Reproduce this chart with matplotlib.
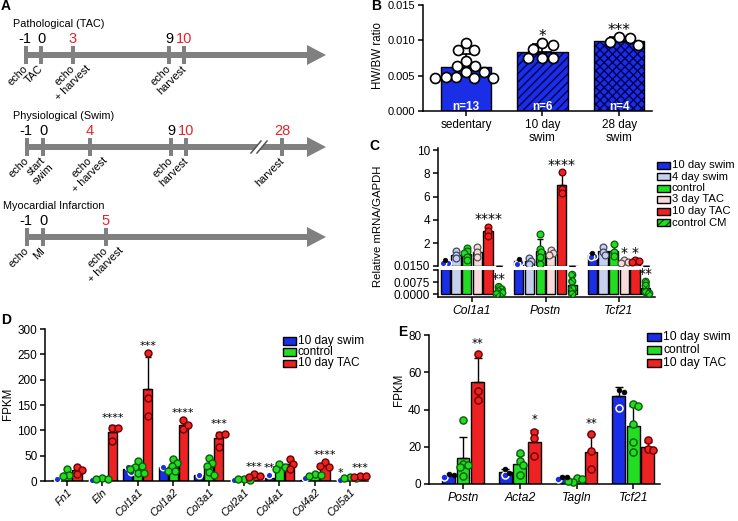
import matplotlib
matplotlib.use('Agg')
import matplotlib.pyplot as plt
from matplotlib.patches import Rectangle, Polygon
import numpy as np

plt.rcParams['font.family'] = ['Liberation Sans', 'DejaVu Sans']
plt.rcParams['axes.linewidth'] = 1.1
plt.rcParams['hatch.linewidth'] = 1.0

# ======================= DATA =======================
# ---- Panel A (timelines)
tl_titles = ["Pathological (TAC)", "Physiological (Swim)", "Myocardial Infarction"]
tl_days = [["-1", "0", "3", "9", "10"],
           ["-1", "0", "4", "9", "10", "28"],
           ["-1", "0", "5"]]
tl_red = [["3", "10"], ["4", "10", "28"], ["5"]]
tl_events = [[["echo"], ["TAC"], ["echo", "+ harvest"], ["echo"], ["harvest"]],
             [["echo"], ["start", "swim"], ["echo", "+ harvest"], ["echo"], ["harvest"], ["harvest"]],
             [["echo"], ["MI"], ["echo", "+ harvest"]]]

# ---- Panel B
b_groups = ["sedentary", "10 day\nswim", "28 day\nswim"]
b_means = [0.0062, 0.0083, 0.0099]
b_err = [0.0018, 0.0012, 0.0006]
b_points = [[0.0096, 0.0086, 0.0086, 0.0071, 0.0063, 0.0063, 0.0055, 0.0055,
             0.0048, 0.0048, 0.0046, 0.0047, 0.0047],
            [0.0096, 0.0093, 0.0088, 0.0075, 0.0075, 0.0075],
            [0.0105, 0.0103, 0.0098, 0.0093]]
b_n = ["n=13", "n=6", "n=4"]
b_stars = ["", "*", "***"]

# ---- Panel C
c_genes = ["Col1a1", "Postn", "Tcf21"]
c_series = ["10 day swim", "4 day swim", "control", "3 day TAC", "10 day TAC", "control CM"]
c_swim10 = [0.35, 0.41, 0.93]
c_swim10_err = [0.12, 0.15, 0.2]
c_swim10_pts = [[0.5, 0.3, 0.25], [0.66, 0.37, 0.2], [1.15, 0.9, 0.75]]
c_swim4 = [1.0, 0.45, 1.27]
c_swim4_err = [0.3, 0.25, 0.35]
c_swim4_pts = [[1.3, 1.0, 0.7], [0.7, 0.45, 0.2], [1.66, 1.2, 0.95]]
c_control = [1.06, 1.3, 1.33]
c_control_err = [0.45, 1.05, 0.5]
c_control_pts = [[1.6, 1.3, 1.1, 0.8, 0.5], [2.8, 1.5, 1.2, 0.8, 0.2], [1.9, 1.2, 0.9]]
c_tac3 = [1.23, 1.16, 0.4]
c_tac3_err = [0.43, 0.2, 0.1]
c_tac3_pts = [[1.66, 1.23, 0.8], [1.37, 1.1, 1.0], [0.5, 0.4, 0.3]]
c_tac10 = [3.0, 7.03, 0.41]
c_tac10_err = [0.4, 0.95, 0.09]
c_tac10_pts = [[3.4, 3.0, 2.6], [8.1, 6.7, 6.3], [0.5, 0.42, 0.32]]
c_cm = [0.0020, 0.0059, 0.0036]
c_cm_err = [0.0018, 0.0053, 0.0033]
c_cm_pts = [[0.0045, 0.003, 0.0018, 0.0008, 0.0], [0.012, 0.008, 0.0035, 0.0],
            [0.0077, 0.0052, 0.0013, 0.0004]]
c_stars = [(0, 4, "****"), (0, 5, "**"), (1, 4, "****"), (2, 3, "*"), (2, 4, "*"), (2, 5, "**")]

# ---- Panel D
d_genes = ["Fn1", "Eln", "Col1a1", "Col1a2", "Col3a1", "Col2a1", "Col4a1", "Col4a2", "Col5a1"]
d_swim = [2, 1, 23, 28, 11, 0.5, 6, 1.5, 0.5]
d_swim_err = [0, 0, 6, 3, 3, 0, 3, 0, 0]
d_swim_pts = [[4], [2], [28, 18], [28], [11], [2], [11], [5], [2]]
d_ctrl = [15, 4, 26, 29, 28, 3, 28, 12, 6]
d_ctrl_err = [7, 2, 9, 10, 13, 1, 5, 2, 1]
d_ctrl_pts = [[23, 12, 10], [6, 4, 3], [39, 30, 28, 23, 16, 16], [44, 35, 29, 19, 19],
              [45, 35, 30, 17, 12], [3, 2, 4], [33, 28, 23], [14, 11, 9], [7, 5, 6]]
d_tac = [21, 96, 181, 111, 84, 10, 33, 32, 9]
d_tac_err = [7, 14, 64, 9, 13, 3, 10, 5, 1]
d_tac_pts = [[28, 21, 14], [104, 104, 79], [252, 164, 128], [120, 103, 110], [91, 92, 68],
             [13, 9, 8], [43, 33, 23], [37, 28, 30], [10, 9, 8]]
d_stars = [(1, 2, "****"), (2, 2, "***"), (3, 2, "****"), (4, 2, "***"), (5, 2, "***"),
           (6, 0, "**"), (7, 2, "****"), (8, 0, "*"), (8, 2, "***")]

# ---- Panel E
e_genes = ["Postn", "Acta2", "Tagln", "Tcf21"]
e_swim = [4.6, 6.2, 3.5, 47]
e_swim_err = [0.6, 1.6, 0.9, 5.2]
e_swim_pts = [[5.2, 4.8, 3.9], [7.9, 6.0, 4.8], [4.0, 3.8, 2.6], [50.5, 49.5, 41]]
e_ctrl = [13.8, 11, 2, 31]
e_ctrl_err = [11.6, 4.5, 1.0, 11.0]
e_ctrl_pts = [[34.5, 11, 10, 9, 4.5], [16.5, 12.5, 10.2, 4.8], [3, 2.5, 1, 1.5],
              [43, 41.7, 32, 22.4, 17]]
e_tac = [54.9, 22.4, 17.3, 20]
e_tac_err = [12.5, 6.6, 9.3, 2.5]
e_tac_pts = [[69.6, 45, 50], [27.9, 24.5, 14.9], [26.6, 17.5, 7.8], [23.4, 19, 18]]
e_stars = [(0, 2, "**"), (1, 2, "*"), (2, 2, "**")]
legend3 = ["10 day swim", "control", "10 day TAC"]

# ======================= STYLE =======================
BLUE = '#1a2ee6'; NAVY = '#000050'
LBLUE = '#c5d0ee'; GREEN = '#22dd22'; DGREEN = '#0b5d0b'
PINK = '#f9d9d9'; RED = '#ee2222'; DRED = '#6a0000'
TLRED = '#e3242b'; GRAY = '#808080'

W, H = 738, 521
fig = plt.figure(figsize=(W / 100, H / 100), dpi=100)


def add_ax(x0, y0, x1, y1):
    return fig.add_axes([x0 / W, 1 - y1 / H, (x1 - x0) / W, (y1 - y0) / H])


ov = add_ax(0, 0, W, H)
ov.set_xlim(0, W); ov.set_ylim(H, 0); ov.axis('off'); ov.set_zorder(10)
renderer = fig.canvas.get_renderer()


def text_width(s, fs):
    t = ov.text(0, 0, s, fontsize=fs)
    w = t.get_window_extent(renderer).width
    t.remove()
    return w


def swarm_offsets(vals, diam, xs, ys):
    placed, out = [], []
    for v in vals:
        y = v * ys
        k, chosen = 0, None
        while chosen is None:
            cands = [0.0] if k == 0 else [k * 0.5, -k * 0.5]
            for c in cands:
                if all((c - px) ** 2 + (y - py) ** 2 >= diam ** 2 for px, py in placed):
                    chosen = c
                    break
            k += 1
        placed.append((chosen, y))
        out.append(chosen / xs)
    return np.array(out)


def draw_bars(ax, x, h, w, face, hatch=None, hcolor=None):
    if hatch:
        ax.bar(x, h, w, color=face, edgecolor=hcolor, linewidth=0, hatch=hatch, zorder=2)
        ax.bar(x, h, w, fill=False, edgecolor='k', linewidth=1, zorder=2.1)
    else:
        ax.bar(x, h, w, color=face, edgecolor='k', linewidth=1, zorder=2)


def up_err(ax, x, h, err, cs, lw=1.0):
    ax.errorbar(x, h, yerr=[np.zeros(len(err)), err], fmt='none', ecolor='k',
                elinewidth=lw, capsize=cs, capthick=lw, zorder=3)


def star(ax, x, y, text, fs, gap_px):
    off = (gap_px - 0.59 * fs * 100 / 72) * 0.72
    ax.annotate(text, (x, y), xytext=(0, off), textcoords='offset points', ha='center',
                va='baseline', fontsize=fs, family='DejaVu Sans', annotation_clip=False,
                zorder=6)


def prism(ax, fs=8.5):
    ax.spines['top'].set_visible(False)
    ax.spines['right'].set_visible(False)
    ax.tick_params(direction='out', length=3.5, width=1.1, labelsize=fs, pad=2)


def sz(d):
    return (d * 0.72) ** 2


# ======================= PANEL A =======================
tl_y = [55, 147, 237]
tl_title_x = [13, 13, 3]
tl_xpos = [[26, 41, 73, 169, 184], [27, 43, 90, 171, 186, 282], [27, 43, 106]]
tl_break = [None, 258, None]
EVFS = 7.8
for ti in range(3):
    ly = tl_y[ti]
    xs = tl_xpos[ti]
    ov.text(tl_title_x[ti], ly - 28, tl_titles[ti], fontsize=7.8, va='baseline')
    ov.plot([xs[0] - 2, 309], [ly, ly], color=GRAY, lw=4.3, solid_capstyle='butt')
    ov.add_patch(Polygon([[307, ly - 10], [326, ly], [307, ly + 10]], closed=True,
                         facecolor=GRAY, lw=0))
    if tl_break[ti] is not None:
        bx = tl_break[ti]
        ov.add_patch(Polygon([[bx - 6, ly + 6], [bx + 3, ly - 6], [bx + 8, ly - 6], [bx - 1, ly + 6]],
                             closed=True, facecolor='white', lw=0, zorder=3))
        ov.plot([bx - 7, bx + 3], [ly + 6, ly - 6], color='#555555', lw=1.1, zorder=4)
        ov.plot([bx - 1, bx + 9], [ly + 6, ly - 6], color='#555555', lw=1.1, zorder=4)
    for day, x, ev in zip(tl_days[ti], xs, tl_events[ti]):
        ov.add_patch(Rectangle((x - 2.2, ly - 9), 4.4, 18, facecolor=GRAY, lw=0))
        ov.text(x - (1.5 if day == "-1" else 0), ly - 12, day, ha='center', va='baseline',
                fontsize=10.5, color=TLRED if day in tl_red[ti] else 'k')
        p1 = (x + 0.5, ly + 12)
        ov.text(p1[0], p1[1], ev[0], rotation=45, rotation_mode='anchor', ha='right',
                va='center', fontsize=EVFS)
        if len(ev) > 1:
            w1 = text_width(ev[0], EVFS)
            c = (p1[0] - w1 / 2 / np.sqrt(2), p1[1] + w1 / 2 / np.sqrt(2))
            sp = 10.5
            p2 = (c[0] + sp / np.sqrt(2), c[1] + sp / np.sqrt(2))
            ov.text(p2[0], p2[1], ev[1], rotation=45, rotation_mode='anchor', ha='center',
                    va='center', fontsize=EVFS)

# ======================= PANEL B =======================
axb = add_ax(423, 5, 652, 111)
prism(axb, 8)
xb = np.arange(len(b_groups))
axb.set_xlim(-0.56, 2.43)
axb.set_ylim(0, 0.015)
b_hatch = [None, '////', 'xxxx']
for i in range(3):
    draw_bars(axb, xb[i], b_means[i], 0.66, BLUE, b_hatch[i], NAVY)
up_err(axb, xb, b_means, b_err, 7.5, 1.2)
for i in range(3):
    offs = swarm_offsets(b_points[i], 10.5, 76.5, 106 / 0.015)
    axb.scatter(xb[i] + offs, b_points[i], s=sz(10), facecolor='white', edgecolor='k',
                linewidths=1.2, zorder=4, clip_on=False)
    axb.text(xb[i], 0.0002, b_n[i], color='white', fontweight='bold', ha='center',
             va='baseline', fontsize=8.5, zorder=5)
    if b_stars[i]:
        star(axb, xb[i], max(b_means[i] + b_err[i], max(b_points[i])), b_stars[i], 11, 11)
axb.set_yticks([0, 0.005, 0.010, 0.015])
axb.set_yticklabels(["0.000", "0.005", "0.010", "0.015"])
axb.set_xticks(xb)
axb.set_xticklabels(b_groups, fontsize=8.5, linespacing=1.1)
ov.text(378, 56, "HW/BW ratio", rotation=90, ha='center', va='center', fontsize=8.3)

# ======================= PANEL C =======================
axc_t = add_ax(438, 148, 655, 266)
axc_b = add_ax(438, 270, 655, 297)
for a in (axc_t, axc_b):
    prism(a, 8.5)
    a.set_xlim(-0.463, 2.49)
axc_t.set_ylim(0.015, 10.2)
axc_b.set_ylim(-0.0017, 0.015)
axc_t.spines['bottom'].set_visible(False)
axc_t.set_xticks([])
axc_t.set_yticks([0.015, 2, 4, 6, 8, 10])
axc_t.set_yticklabels(["0.0150", "2", "4", "6", "8", "10"])
axc_b.set_yticks([0, 0.0075, 0.015])
axc_b.set_yticklabels(["0.0000", "0.0075", ""])
xc = np.arange(len(c_genes))
axc_b.set_xticks(xc)
axc_b.set_xticklabels(c_genes, fontstyle='italic', fontsize=8.7)

c_means_all = [c_swim10, c_swim4, c_control, c_tac3, c_tac10, c_cm]
c_err_all = [c_swim10_err, c_swim4_err, c_control_err, c_tac3_err, c_tac10_err, c_cm_err]
c_pts_all = [c_swim10_pts, c_swim4_pts, c_control_pts, c_tac3_pts, c_tac10_pts, c_cm_pts]
c_face = [BLUE, LBLUE, GREEN, PINK, RED, GREEN]
c_pedge = ['white', '#444466', DGREEN, '#555555', DRED, DGREEN]
c_hatch = [None, None, None, None, None, '////']
cstep, cw = 0.1456, 0.125
for si in range(6):
    xpos = xc + (si - 2.5) * cstep
    for a in (axc_t, axc_b):
        draw_bars(a, xpos, c_means_all[si], cw, c_face[si], c_hatch[si], DGREEN)
        up_err(a, xpos, c_means_all[si], c_err_all[si], 2.3, 1.0)
    a_pts = axc_b if si == 5 else axc_t
    ys = 27 / 0.0167 if si == 5 else 11.6
    for g in range(3):
        vals = np.array(c_pts_all[si][g])
        offs = swarm_offsets(vals, 3.5, 73.5, ys)
        if si == 0:
            top = np.argmax(vals)
            rest = [k for k in range(len(vals)) if k != top]
            a_pts.scatter(xpos[g] + offs[rest], vals[rest], s=sz(6.5), facecolor=BLUE,
                          edgecolor='white', linewidths=1.0, zorder=4)
            a_pts.scatter([xpos[g] + offs[top]], [vals[top]], s=sz(4.5), facecolor='k',
                          edgecolor='k', linewidths=0.5, zorder=4)
        elif si == 5:
            with plt.rc_context({'hatch.color': DGREEN, 'hatch.linewidth': 0.6}):
                a_pts.scatter(xpos[g] + offs, vals, s=sz(7), facecolor=GREEN, edgecolor=DGREEN,
                              linewidths=0.9, hatch='xxxx', zorder=4)
        else:
            a_pts.scatter(xpos[g] + offs, vals, s=sz(6.8), facecolor=c_face[si],
                          edgecolor=c_pedge[si], linewidths=0.9, zorder=4)
for g, si, txt in c_stars:
    a = axc_b if si == 5 else axc_t
    x = xc[g] + (si - 2.5) * cstep
    ytop = max(c_means_all[si][g] + c_err_all[si][g], max(c_pts_all[si][g]))
    star(a, x, ytop, txt, 10, 12)
ov.text(378, 226, "Relative mRNA/GAPDH", rotation=90, ha='center', va='center', fontsize=8.2)
# legend C
for i, lab in enumerate(c_series):
    yy = 165 + i * 11.5
    if c_hatch[i]:
        ov.add_patch(Rectangle((657, yy - 3.5), 13, 7, facecolor=GREEN, edgecolor=DGREEN,
                               hatch='////', lw=0))
        ov.add_patch(Rectangle((657, yy - 3.5), 13, 7, fill=False, edgecolor='k', lw=1))
    else:
        ov.add_patch(Rectangle((657, yy - 3.5), 13, 7, facecolor=c_face[i], edgecolor='k', lw=1))
    ov.text(672, yy, lab, va='center', ha='left', fontsize=8.1)

# ======================= PANEL D =======================
axd = add_ax(45, 329, 368, 481)
prism(axd, 8.5)
xd = np.arange(len(d_genes))
axd.set_xlim(-0.62, 8.5)
axd.set_ylim(0, 300)
axd.set_yticks(np.arange(0, 301, 50))
axd.set_xticks(xd)
axd.set_xticklabels(d_genes, rotation=45, ha='right', rotation_mode='anchor',
                    fontstyle='italic', fontsize=7.8)
axd.tick_params(axis='x', pad=1)
d_off, d_w = 0.285, 0.26
d_means_all = [d_swim, d_ctrl, d_tac]
d_err_all = [d_swim_err, d_ctrl_err, d_tac_err]
d_pts_all = [d_swim_pts, d_ctrl_pts, d_tac_pts]
d_face = [BLUE, GREEN, RED]
d_pedge = ['white', DGREEN, DRED]
for si in range(3):
    xpos = xd + (si - 1) * d_off
    draw_bars(axd, xpos, d_means_all[si], d_w, d_face[si])
    up_err(axd, xpos, d_means_all[si], d_err_all[si], 2.5, 1.0)
    for g in range(len(d_genes)):
        vals = np.array(d_pts_all[si][g])
        offs = swarm_offsets(vals, 6.0, 35.4, 0.507)
        axd.scatter(xpos[g] + offs, vals, s=sz(7 if si else 6.5), facecolor=d_face[si],
                    edgecolor=d_pedge[si], linewidths=1.0, zorder=4, clip_on=False)
for g, si, txt in d_stars:
    x = xd[g] + (si - 1) * d_off
    ytop = max(d_means_all[si][g] + d_err_all[si][g], max(d_pts_all[si][g]))
    star(axd, x, ytop, txt, 8, 11)
ov.text(8, 404, "FPKM", rotation=90, ha='center', va='center', fontsize=8.4)
for i, lab in enumerate(legend3):
    yy = 341 + i * 11.2
    ov.add_patch(Rectangle((283, yy - 3.8), 13, 7.6, facecolor=d_face[i], edgecolor='k', lw=1))
    ov.text(298, yy, lab, va='center', ha='left', fontsize=8.6)

# ======================= PANEL E =======================
axe = add_ax(429, 335, 660, 484)
prism(axe, 8.5)
xe = np.arange(len(e_genes))
axe.set_xlim(-0.6, 3.47)
axe.set_ylim(0, 80)
axe.set_yticks([0, 20, 40, 60, 80])
axe.set_xticks(xe)
axe.set_xticklabels(e_genes, fontstyle='italic', fontsize=8.8)
e_off, e_w = 0.256, 0.225
e_means_all = [e_swim, e_ctrl, e_tac]
e_err_all = [e_swim_err, e_ctrl_err, e_tac_err]
e_pts_all = [e_swim_pts, e_ctrl_pts, e_tac_pts]
for si in range(3):
    xpos = xe + (si - 1) * e_off
    draw_bars(axe, xpos, e_means_all[si], e_w, d_face[si])
    up_err(axe, xpos, e_means_all[si], e_err_all[si], 3.0, 1.0)
    for g in range(len(e_genes)):
        vals = np.array(e_pts_all[si][g])
        offs = swarm_offsets(vals, 5.0, 56.7, 1.8625)
        if si == 0:
            lo = np.argmin(vals)
            rest = [k for k in range(len(vals)) if k != lo]
            axe.scatter([xpos[g] + offs[lo]], [vals[lo]], s=sz(7), facecolor=BLUE,
                        edgecolor='white', linewidths=1.1, zorder=4, clip_on=False)
            axe.scatter(xpos[g] + offs[rest], vals[rest], s=sz(4.8), facecolor='k',
                        edgecolor='k', linewidths=0.5, zorder=4.5, clip_on=False)
        else:
            axe.scatter(xpos[g] + offs, vals, s=sz(7.2), facecolor=d_face[si],
                        edgecolor=d_pedge[si], linewidths=1.0, zorder=4, clip_on=False)
for g, si, txt in e_stars:
    x = xe[g] + (si - 1) * e_off
    ytop = max(e_means_all[si][g] + e_err_all[si][g], max(e_pts_all[si][g]))
    star(axe, x, ytop, txt, 8.5, 14)
ov.text(399, 390, "FPKM", rotation=90, ha='center', va='center', fontsize=8.4)
for i, lab in enumerate(legend3):
    yy = 337 + i * 13
    ov.add_patch(Rectangle((647, yy - 4), 14, 8, facecolor=d_face[i], edgecolor='k', lw=1))
    ov.text(663, yy, lab, va='center', ha='left', fontsize=8.7)

# ======================= PANEL LETTERS =======================
for lab, (x, y) in {"A": (6, 6), "B": (376, 6), "C": (374, 146), "D": (6, 320), "E": (403, 332)}.items():
    ov.text(x, y, lab, fontsize=10, fontweight='bold', ha='center', va='center')

fig.savefig('out.png', dpi=100)
